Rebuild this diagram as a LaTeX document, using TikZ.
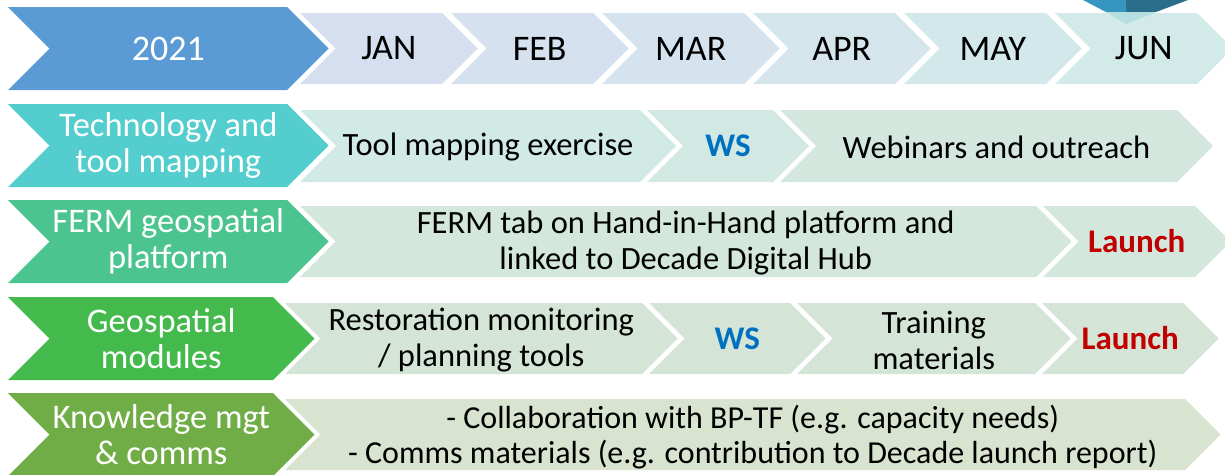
\documentclass[tikz,border=0pt]{standalone}
\usepackage{fontspec}
\setmainfont{Carlito}

\definecolor{yearblue}{HTML}{5B9BD5}
\definecolor{janc}{HTML}{D5DFEF}
\definecolor{febc}{HTML}{D5E1EE}
\definecolor{marc}{HTML}{D4E3ED}
\definecolor{aprc}{HTML}{D4E6EC}
\definecolor{mayc}{HTML}{D3E8EA}
\definecolor{junc}{HTML}{D2EAE8}
\definecolor{techc}{HTML}{53CDCD}
\definecolor{fermc}{HTML}{4CC48F}
\definecolor{geoc}{HTML}{44BA4D}
\definecolor{kmc}{HTML}{70AD47}
\definecolor{rowtwoa}{HTML}{D2EAE5}
\definecolor{rowtwob}{HTML}{D2E8E2}
\definecolor{rowtwoc}{HTML}{D3E7DF}
\definecolor{rowthree}{HTML}{D3E7DC}
\definecolor{rowfour}{HTML}{D4E5D7}
\definecolor{rowfive}{HTML}{D8E3D0}
\definecolor{wsblue}{HTML}{0070C0}
\definecolor{launchred}{HTML}{C00000}
\definecolor{iconlight}{HTML}{3596BF}
\definecolor{icondark}{HTML}{2B6E8C}
\definecolor{iconshade}{HTML}{B6DDE0}

% chevron: #1 name, #2 left, #3 right (top corners), #4 top, #5 bottom,
% #6 fill, #7 text style, #8 text
\newcommand\chev[8]{%
  \fill[#6] (#2,#4) -- (#3,#4) -- ({#3+(#5-#4)/2},{(#4+#5)/2})
    -- (#3,#5) -- (#2,#5) -- ({#2+(#5-#4)/2},{(#4+#5)/2}) -- cycle;
  \node[#7] (#1) at ({(#2+#3+(#5-#4)/2)/2},{(#4+#5)/2}) {#8};%
}

\tikzset{
  headtext/.style={font=\fontsize{36}{38}\selectfont, text=black, inner sep=0pt},
  yeartext/.style={headtext, text=white},
  lbltext/.style={font=\fontsize{34.5}{36}\selectfont, text=white, align=center, inner sep=0pt},
  bodytext/.style={font=\fontsize{32.5}{36}\selectfont, text=black, align=center, inner sep=0pt, yshift=-1.5pt},
  smalltext/.style={font=\fontsize{32}{35}\selectfont, text=black, align=center, inner sep=0pt, yshift=-2.5pt},
  wstext/.style={font=\fontsize{33}{36}\selectfont\bfseries, text=wsblue, inner sep=0pt},
  launchtext/.style={font=\fontsize{33}{36}\selectfont\bfseries, text=launchred, inner sep=0pt},
}

\begin{document}
\begin{tikzpicture}[x=1pt,y=-1pt]
\useasboundingbox (0,0) rectangle (1225,474);
\clip (0,0) rectangle (1225,474);

% header row
\chev{year}{8}{287}{7}{90}{yearblue}{yeartext}{2021}
\chev{jan}{300}{442}{13}{84}{janc}{headtext}{JAN}
\chev{feb}{451}{593}{13}{84}{febc}{headtext}{FEB}
\chev{mar}{602}{744}{13}{84}{marc}{headtext}{MAR}
\chev{apr}{753}{895}{13}{84}{aprc}{headtext}{APR}
\chev{may}{904}{1046}{13}{84}{mayc}{headtext}{MAY}
\chev{jun}{1055}{1197}{13}{84}{junc}{headtext}{JUN}

% technology and tool mapping
\chev{tech}{8}{287}{104}{187}{techc}{lbltext}{Technology and\\tool mapping}
\chev{toolmap}{300}{640}{110}{182}{rowtwoa}{bodytext}{Tool mapping exercise}
\chev{wsone}{647}{773}{110}{182}{rowtwob}{wstext}{WS}
\chev{webinar}{780}{1177}{110}{182}{rowtwoc}{bodytext}{Webinars and outreach}

% FERM geospatial platform
\chev{ferm}{8}{287}{200}{283}{fermc}{lbltext}{FERM geospatial\\platform}
\chev{fermtab}{300}{1036}{206}{277}{rowthree}{bodytext}{FERM tab on Hand-in-Hand platform and\\linked to Decade Digital Hub}
\chev{launchone}{1043}{1195}{206}{277}{rowthree}{launchtext}{Launch}

% geospatial modules
\chev{geo}{8}{273}{297}{380}{geoc}{lbltext}{Geospatial\\modules}
\chev{restore}{285}{642}{303}{374}{rowfour}{bodytext}{Restoration monitoring\\/ planning tools}
\chev{wstwo}{649}{790}{303}{374}{rowfour}{wstext}{WS}
\chev{training}{797}{1035}{303}{374}{rowfour}{bodytext}{Training\\materials}
\chev{launchtwo}{1042}{1183}{303}{374}{rowfour}{launchtext}{Launch}

% knowledge management and communications
\chev{km}{8}{273}{393}{476}{kmc}{lbltext}{Knowledge mgt\\\& comms}
\chev{comms}{285}{1185}{399}{470}{rowfive}{smalltext}{- Collaboration with BP-TF (e.g. capacity needs)\\- Comms materials (e.g. contribution to Decade launch report)}

% corner icon
\fill[iconlight] (1083,0) -- (1126,0) -- (1126,12) -- (1106,12) -- cycle;
\fill[icondark] (1126,0) -- (1188,0) -- (1156,12) -- (1126,12) -- cycle;
\fill[iconshade] (1106,12) -- (1156,12) -- (1126,24) -- cycle;
\end{tikzpicture}
\end{document}
